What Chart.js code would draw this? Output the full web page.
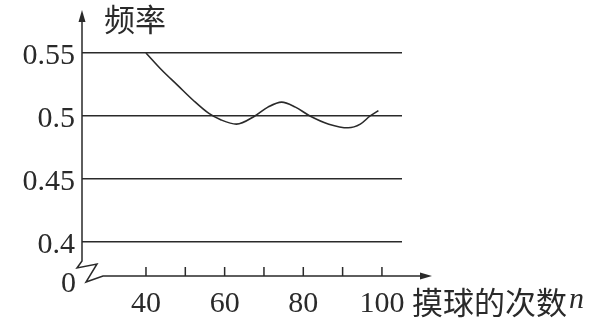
<!DOCTYPE html>
<html>
<head>
<meta charset="utf-8">
<script src="https://cdn.jsdelivr.net/npm/chart.js"></script>
<style>
  html, body { margin: 0; padding: 0; background: #fff; }
</style>
</head>
<body>
<canvas id="freqChart" width="596" height="318"></canvas>
<script>
// ==================== Data ====================
const nValues    = [40, 44, 48, 52, 56, 59, 63, 67.7, 71, 74.5, 78, 81.7, 86.5, 91.4, 94.5, 97, 99.1];
const freqValues = [0.55, 0.5365, 0.5245, 0.5125, 0.502, 0.497, 0.4935, 0.5, 0.507, 0.511, 0.507, 0.5, 0.4935, 0.4906, 0.4935, 0.5, 0.5043];
const yTickValues = [0.4, 0.45, 0.5, 0.55];
const xLabelValues = [40, 60, 80, 100];
const xTickMarks = [40, 50, 60, 70, 80, 90, 100];
const yTitle = "频率";
const xTitle = "摸球的次数";
const xTitleVar = "n";

// broken axis: bottom of the y scale is labelled 0
const yMin = 0.373;
const yMax = 0.5722;
const xMin = 23.73;
const xMax = 105.1;

const ink = "#2a2a2a";
const numFont = "30px 'Liberation Serif'";
const cjkFont = "31px 'Noto Sans CJK SC'";

// ==================== Axes, arrows, titles ====================
const axisPlugin = {
    id: "axisPlugin",
    afterDraw(chart) {
        const ctx = chart.ctx;
        const x = chart.scales.x;
        const left = chart.chartArea.left;
        const bottom = chart.chartArea.bottom;
        const axisEnd = x.getPixelForValue(xMax) + 30;

        ctx.save();
        ctx.strokeStyle = ink;
        ctx.fillStyle = ink;
        ctx.lineWidth = 1.5;

        // y axis with zigzag break, then x axis
        ctx.beginPath();
        ctx.moveTo(left, 16);
        ctx.lineTo(left, bottom - 15);
        ctx.lineTo(left - 5, bottom - 8);
        ctx.lineTo(left + 15, bottom - 12);
        ctx.lineTo(left + 4, bottom + 6);
        ctx.lineTo(left + 21, bottom);
        ctx.lineTo(axisEnd - 8, bottom);
        ctx.stroke();

        // arrow heads
        ctx.beginPath();
        ctx.moveTo(left, 10);
        ctx.lineTo(left - 3.5, 22);
        ctx.lineTo(left + 3.5, 22);
        ctx.closePath();
        ctx.fill();
        ctx.beginPath();
        ctx.moveTo(axisEnd, bottom);
        ctx.lineTo(axisEnd - 12, bottom - 3.5);
        ctx.lineTo(axisEnd - 12, bottom + 3.5);
        ctx.closePath();
        ctx.fill();

        // tick marks pointing up
        ctx.beginPath();
        xTickMarks.forEach(v => {
            const px = x.getPixelForValue(v);
            ctx.moveTo(px, bottom);
            ctx.lineTo(px, bottom - 9);
        });
        ctx.stroke();

        // "0" label at the origin
        ctx.font = numFont;
        ctx.textAlign = "right";
        ctx.textBaseline = "middle";
        ctx.fillText("0", left - 6, bottom + 8);

        // titles
        ctx.font = cjkFont;
        ctx.textAlign = "left";
        ctx.fillText(yTitle, left + 22, 19);
        ctx.fillText(xTitle, axisEnd - 20, 302);
        const w = ctx.measureText(xTitle).width;
        ctx.font = "italic 30px 'Liberation Serif'";
        ctx.fillText(xTitleVar, axisEnd - 20 + w + 2, 300);
        ctx.restore();
    }
};

// ==================== Chart ====================
new Chart(document.getElementById("freqChart"), {
    type: "line",
    data: {
        datasets: [{
            data: nValues.map((n, i) => ({ x: n, y: freqValues[i] })),
            borderColor: ink,
            borderWidth: 1.6,
            pointRadius: 0,
            fill: false,
            cubicInterpolationMode: "monotone"
        }]
    },
    options: {
        responsive: false,
        devicePixelRatio: 1,
        animation: false,
        layout: { autoPadding: false, padding: { top: 15, right: 194, left: 0, bottom: 0 } },
        plugins: { legend: { display: false }, tooltip: { enabled: false } },
        scales: {
            x: {
                type: "linear",
                min: xMin,
                max: xMax,
                afterBuildTicks: s => { s.ticks = xLabelValues.map(v => ({ value: v })); },
                afterFit: s => { s.height = 42; },
                grid: { display: false, drawTicks: false },
                border: { display: false },
                ticks: { font: { family: "Liberation Serif", size: 30 }, color: ink, padding: 10, maxRotation: 0 }
            },
            y: {
                min: yMin,
                max: yMax,
                afterBuildTicks: s => { s.ticks = yTickValues.map(v => ({ value: v })); },
                afterFit: s => { s.width = 82; },
                grid: { color: ink, lineWidth: 1.5, drawTicks: false },
                border: { display: false },
                ticks: { font: { family: "Liberation Serif", size: 30 }, color: ink, padding: 7, labelOffset: 3, callback: v => String(v) }
            }
        }
    },
    plugins: [axisPlugin]
});
</script>
</body>
</html>
